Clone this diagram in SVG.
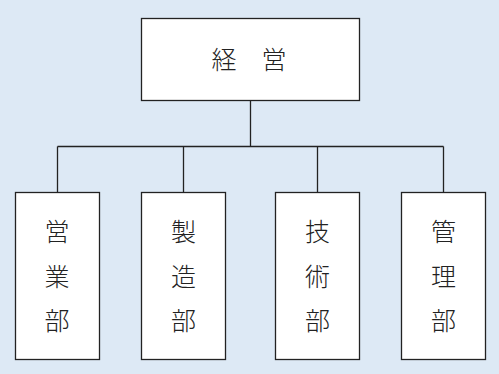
<svg xmlns="http://www.w3.org/2000/svg" width="499" height="374" viewBox="0 0 499 374">
<style>
.box{fill:#ffffff;stroke:#222222;stroke-width:1.3}
.lbl{font-family:"Noto Sans CJK JP","Noto Sans CJK SC",sans-serif;font-size:25px;fill:#222222;text-anchor:middle;dominant-baseline:central;font-weight:300}
.conn{fill:none;stroke:#222222;stroke-width:1.3}
</style>
<rect x="0" y="0" width="499" height="374" fill="#dde9f5"/>
<g id="connectors">
<path class="conn" d="M250.5 100.5 V146.5 M57.5 146.5 H443.5 M57.5 146.5 V192.5 M183.5 146.5 V192.5 M317.5 146.5 V192.5 M443.5 146.5 V192.5"/>
</g>
<g id="keiei">
<rect class="box" x="141.5" y="18.5" width="218" height="82"/>
<text class="lbl" x="249" y="58">経　営</text>
</g>
<g id="eigyobu">
<rect class="box" x="15.5" y="192.5" width="84" height="167"/>
<text class="lbl" x="57" y="230">営</text>
<text class="lbl" x="57" y="275">業</text>
<text class="lbl" x="57" y="319">部</text>
</g>
<g id="seizobu">
<rect class="box" x="141.5" y="192.5" width="84" height="167"/>
<text class="lbl" x="183.5" y="230">製</text>
<text class="lbl" x="183.5" y="275">造</text>
<text class="lbl" x="183.5" y="319">部</text>
</g>
<g id="gijutsubu">
<rect class="box" x="275.5" y="192.5" width="84" height="167"/>
<text class="lbl" x="317.5" y="230">技</text>
<text class="lbl" x="317.5" y="275">術</text>
<text class="lbl" x="317.5" y="319">部</text>
</g>
<g id="kanribu">
<rect class="box" x="401.5" y="192.5" width="84" height="167"/>
<text class="lbl" x="443.5" y="230">管</text>
<text class="lbl" x="443.5" y="275">理</text>
<text class="lbl" x="443.5" y="319">部</text>
</g>
</svg>
